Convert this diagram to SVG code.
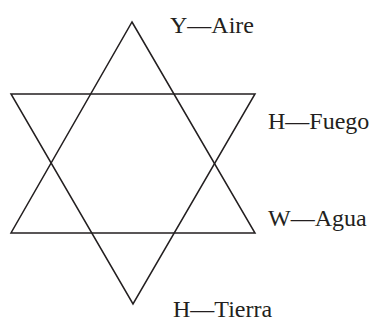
<svg xmlns="http://www.w3.org/2000/svg" width="375" height="322" viewBox="0 0 375 322">
<style>
.tri{fill:none;stroke:#231f20;stroke-width:1.5;stroke-linejoin:miter}
.lbl{font-family:"Liberation Serif","DejaVu Serif",serif;font-size:24px;fill:#231f20}
</style>
<rect width="375" height="322" fill="#ffffff"/>
<g id="star">
<polygon class="tri" points="132,22 255,233 11,233"/>
<polygon class="tri" points="11,94 255,94 133,304"/>
</g>
<g id="labels">
<text class="lbl" x="170" y="33">Y—Aire</text>
<text class="lbl" x="268" y="129">H—Fuego</text>
<text class="lbl" x="268" y="226">W—Agua</text>
<text class="lbl" x="173" y="317">H—Tierra</text>
</g>
</svg>
